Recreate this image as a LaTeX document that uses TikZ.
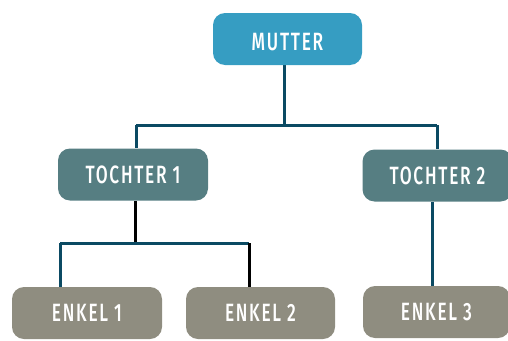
\documentclass[tikz,border=0pt]{standalone}
\usepackage{fontspec}
\setmainfont{Fira Sans}[FakeStretch=0.69,UprightFont=* Medium,LetterSpace=7]
\definecolor{cmutter}{HTML}{369DC2}
\definecolor{ctochter}{HTML}{567E82}
\definecolor{cenkel}{HTML}{8F8D80}
\definecolor{cline}{HTML}{0B4A63}
\begin{document}
\begin{tikzpicture}[x=1pt,y=-1pt,
  box/.style={rounded corners=12pt,minimum width=150pt,minimum height=52pt,
    inner sep=0pt,text=white,font=\fontsize{25}{25}\selectfont},
  link/.style={draw=cline,line width=3pt},
  blink/.style={draw=black,line width=3pt}]
\useasboundingbox (0,0) rectangle (508,340);
\coordinate (hm) at (284,125);
\coordinate (hl) at (136,125);
\coordinate (hr) at (437,125);
\coordinate (h1) at (135,243);
\coordinate (hl1) at (60,243);
\coordinate (hr1) at (249,243);
\coordinate (e1t) at (60,287);
\coordinate (e2t) at (249,287);
\coordinate (t1t) at (136,148);
\coordinate (t2t) at (437,149);
\coordinate (t1b) at (135,201);
\coordinate (t2b) at (432,202);
\coordinate (e3t) at (432,286);
\coordinate (mb) at (284,65);
\draw[link] (mb) -- (hm);
\draw[link] (hl) -- (hr);
\draw[link] (hl) -- (t1t);
\draw[link] (hr) -- (t2t);
\draw[blink] (t1b) -- (h1);
\draw[link] (hl1) -- (hr1);
\draw[link] (hl1) -- (e1t);
\draw[blink] (hr1) -- (e2t);
\draw[link] (t2b) -- (e3t);
\node[box,fill=cmutter,minimum width=149pt] (mutter) at (287.5,39) {};
\node[text=white,font=\fontsize{25}{25}\selectfont,inner sep=0pt] (mlabel) at (287.5,42.5) {MUTTER};
\node[box,fill=ctochter] (t1) at (133,174.5) {TOCHTER 1};
\node[box,fill=ctochter] (t2) at (437.5,175.5) {TOCHTER 2};
\node[box,fill=cenkel] (e1) at (87,313) {ENKEL 1};
\node[box,fill=cenkel,minimum width=149pt] (e2) at (260.5,313) {ENKEL 2};
\node[box,fill=cenkel,minimum width=147pt] (e3) at (436.5,312) {ENKEL 3};
\end{tikzpicture}
\end{document}
